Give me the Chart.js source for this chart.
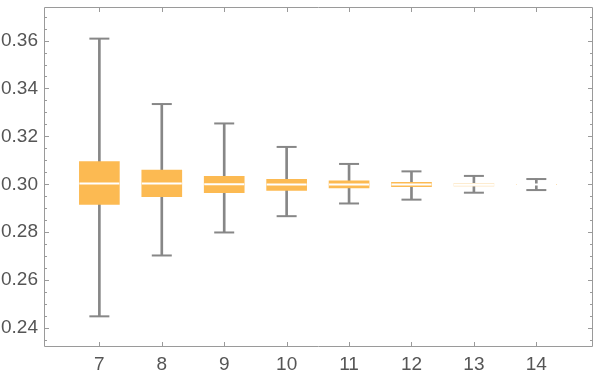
<!DOCTYPE html>
<html>
<head>
<meta charset="utf-8">
<script src="https://cdn.jsdelivr.net/npm/chart.js@4/dist/chart.umd.min.js"></script>
<style>
html,body{margin:0;padding:0;background:#fff;}
#wrap{width:596px;height:382px;}
</style>
</head>
<body>
<div id="wrap"><canvas id="c" width="596" height="382"></canvas></div>
<script>
// ---- data ----
const categories = [7, 8, 9, 10, 11, 12, 13, 14];
const whiskerMax = [0.3608, 0.3335, 0.3254, 0.3156, 0.3085, 0.3054, 0.3035, 0.3022];
const quartile3  = [0.3095, 0.3059, 0.3033, 0.3021, 0.3014, 0.3008, 0.3004, 0.29995];
const medians    = [0.3003, 0.3003, 0.3000, 0.2999, 0.2999, 0.2999, 0.2998, 0.2999];
const quartile1  = [0.2916, 0.2948, 0.2965, 0.2975, 0.2985, 0.2990, 0.2992, 0.29985];
const whiskerMin = [0.2449, 0.2703, 0.2799, 0.2867, 0.2920, 0.2936, 0.2965, 0.2976];
const yTickLabels = [0.24, 0.26, 0.28, 0.30, 0.32, 0.34, 0.36];
const xTickLabels = [7, 8, 9, 10, 11, 12, 13, 14];

// ---- styles ----
const boxColors = ['#fcba52','#fcba52','#fcba52','#fcba52','#fcba52','#fcba52','#fde6c0','#fcba52'];
const frameColor = '#9a9a9a';
const whiskerColor = '#878787';

const framePlugin = {
  id: 'frame',
  beforeDatasetsDraw(chart) {
    const {ctx, chartArea: a, scales: {x, y}} = chart;
    ctx.save();
    ctx.strokeStyle = frameColor;
    ctx.lineWidth = 1;
    ctx.beginPath();
    ctx.rect(a.left + 0.5, a.top + 0.5, a.right - a.left - 1, a.bottom - a.top - 1);
    const lo = Math.ceil(y.min / 0.005), hi = Math.floor(y.max / 0.005);
    for (let k = lo; k <= hi; k++) {
      const v = k * 0.005;
      const major = yTickLabels.some(t => Math.abs(t - v) < 1e-9);
      const len = major ? 5 : 3;
      const py = Math.round(y.getPixelForValue(v)) + 0.5;
      ctx.moveTo(a.left, py); ctx.lineTo(a.left + len, py);
      ctx.moveTo(a.right, py); ctx.lineTo(a.right - len, py);
    }
    xTickLabels.forEach(v => {
      const px = Math.round(x.getPixelForValue(v)) + 0.5;
      ctx.moveTo(px, a.bottom); ctx.lineTo(px, a.bottom - 5);
      ctx.moveTo(px, a.top); ctx.lineTo(px, a.top + 5);
    });
    ctx.stroke();
    ctx.restore();
  }
};

const pts = arr => categories.map((c, i) => ({x: c, y: arr[i]}));

new Chart(document.getElementById('c'), {
  type: 'bar',
  data: {
    datasets: [
      {
        type: 'bar', label: 'whisker', order: 5,
        data: categories.map((c, i) => ({x: c, y: [whiskerMin[i], whiskerMax[i]]})),
        backgroundColor: whiskerColor, barThickness: 2, grouped: false, borderWidth: 0
      },
      {
        type: 'scatter', label: 'capMax', order: 4,
        data: pts(whiskerMax), pointStyle: 'line', pointRadius: 10,
        pointBorderWidth: 2, pointBorderColor: whiskerColor, pointBackgroundColor: whiskerColor
      },
      {
        type: 'scatter', label: 'capMin', order: 4,
        data: pts(whiskerMin), pointStyle: 'line', pointRadius: 10,
        pointBorderWidth: 2, pointBorderColor: whiskerColor, pointBackgroundColor: whiskerColor
      },
      {
        type: 'bar', label: 'box', order: 3,
        data: categories.map((c, i) => ({x: c, y: [quartile1[i], quartile3[i]]})),
        backgroundColor: boxColors, barThickness: 40, grouped: false,
        borderWidth: 0, borderSkipped: false
      },
      {
        type: 'scatter', label: 'median', order: 1,
        data: pts(medians), pointStyle: 'line', pointRadius: 20,
        pointBorderWidth: 2, pointBorderColor: '#ffffff', pointBackgroundColor: '#ffffff'
      }
    ]
  },
  options: {
    responsive: false,
    animation: false,
    layout: {autoPadding: false, padding: {top: 7, right: 3, left: 0, bottom: 0}},
    plugins: {legend: {display: false}, tooltip: {enabled: false}},
    scales: {
      x: {
        type: 'linear', min: 6.113, max: 14.908, offset: false,
        grid: {display: false, drawTicks: false},
        border: {display: false},
        afterBuildTicks: s => { s.ticks = xTickLabels.map(v => ({value: v})); },
        afterFit: s => { s.height = 35; s.paddingLeft = 0; s.paddingRight = 0; s.paddingTop = 0; s.paddingBottom = 0; },
        ticks: {
          color: '#555', padding: 6,
          font: {family: 'Liberation Sans, Arial, sans-serif', size: 19},
          callback: v => String(v), maxRotation: 0, autoSkip: false
        }
      },
      y: {
        type: 'linear', min: 0.2321, max: 0.3740,
        grid: {display: false, drawTicks: false},
        border: {display: false},
        afterBuildTicks: s => { s.ticks = yTickLabels.map(v => ({value: v})); },
        afterFit: s => { s.width = 44; s.paddingLeft = 0; s.paddingRight = 0; s.paddingTop = 0; s.paddingBottom = 0; },
        ticks: {
          color: '#555', padding: 6,
          font: {family: 'Liberation Sans, Arial, sans-serif', size: 19},
          callback: v => Number(v).toFixed(2), autoSkip: false
        }
      }
    }
  },
  plugins: [framePlugin]
});
</script>
</body>
</html>
